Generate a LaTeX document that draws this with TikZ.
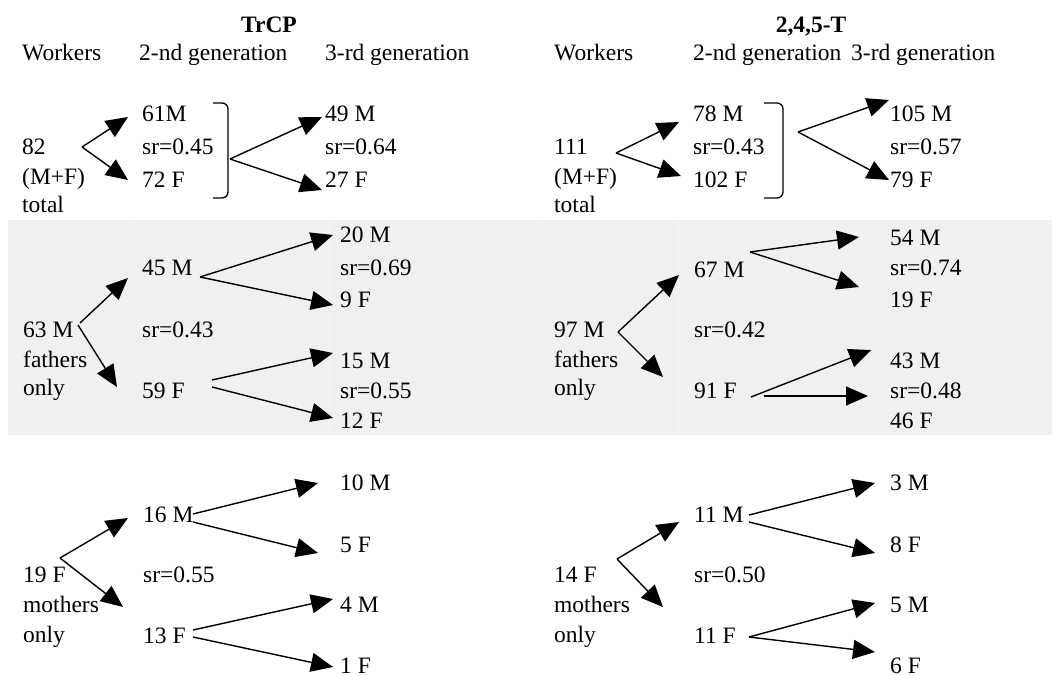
\documentclass[tikz,border=0pt]{standalone}
\usepackage{fontspec}
\setmainfont{Liberation Serif}
\usetikzlibrary{arrows.meta}
\definecolor{band}{HTML}{F0F0F0}
\definecolor{bandline}{HTML}{F5F5F5}
\begin{document}
\begin{tikzpicture}[x=1pt,y=-1pt,
 lab/.style={anchor=base west,inner sep=0pt,font=\fontsize{23.5}{28}\selectfont},
 ttl/.style={anchor=base,inner sep=0pt,font=\fontsize{23.5}{28}\selectfont\bfseries},
 arr/.style={line width=1.4pt,-{Triangle[length=22pt,width=19pt]}},
 brk/.style={line width=1.3pt,rounded corners=6pt}]
\useasboundingbox (0,0) rectangle (1056,676);
% shaded band
\fill[band] (8,220) rectangle (1052,435);
\foreach \xx in {130,329,538,678} \draw[bandline,line width=0.8pt] (\xx,220) -- (\xx,435);
% titles and headers
\node[ttl] (tL) at (269,33) {TrCP};
\node[ttl] (tR) at (811,33) {2,4,5-T};
\node[lab] (hL1) at (22,61) {Workers};
\node[lab] (hL2) at (139,61) {2-nd generation};
\node[lab] (hL3) at (325,61) {3-rd generation};
\node[lab] (hR1) at (554,61) {Workers};
\node[lab] (hR2) at (693,61) {2-nd generation};
\node[lab] (hR3) at (851,61) {3-rd generation};
% ---------- row 1 left
\node[lab] (a82) at (22,155) {82};
\node[lab] (aMF) at (22,185) {(M+F)};
\node[lab] (atot) at (22,213) {total};
\node[lab] (b61) at (142,122) {61M};
\node[lab] (bsr) at (142,155) {sr=0.45};
\node[lab] (b72) at (142,188) {72 F};
\node[lab] (c49) at (325,122) {49 M};
\node[lab] (csr) at (325,155) {sr=0.64};
\node[lab] (c27) at (325,188) {27 F};
\draw[brk] (213,103) -- (228,103) -- (228,198) -- (213,198);
\coordinate (o1) at (82,147);
\coordinate (t1a) at (128,117);
\coordinate (t1b) at (128,180);
\coordinate (o2) at (230,159);
\coordinate (t2a) at (322,117);
\coordinate (t2b) at (322,190);
\draw[arr] (o1) -- (t1a);
\draw[arr] (o1) -- (t1b);
\draw[arr] (o2) -- (t2a);
\draw[arr] (o2) -- (t2b);
% ---------- row 1 right
\node[lab] (d111) at (554,155) {111};
\node[lab] (dMF) at (554,185) {(M+F)};
\node[lab] (dtot) at (554,213) {total};
\node[lab] (e78) at (693,122) {78 M};
\node[lab] (esr) at (693,155) {sr=0.43};
\node[lab] (e102) at (693,188) {102 F};
\node[lab] (f105) at (890,122) {105 M};
\node[lab] (fsr) at (890,155) {sr=0.57};
\node[lab] (f79) at (890,188) {79 F};
\draw[brk] (764,103) -- (783,103) -- (783,198) -- (764,198);
\coordinate (o3) at (616,153);
\coordinate (t3a) at (679,122);
\coordinate (t3b) at (681,176);
\coordinate (o4) at (798,132);
\coordinate (t4a) at (889,100);
\coordinate (t4b) at (889,180);
\draw[arr] (o3) -- (t3a);
\draw[arr] (o3) -- (t3b);
\draw[arr] (o4) -- (t4a);
\draw[arr] (o4) -- (t4b);
% ---------- row 2 left
\node[lab] (g63) at (23,337) {63 M};
\node[lab] (gfa) at (23,367) {fathers};
\node[lab] (gon) at (23,395) {only};
\node[lab] (h45) at (142,275) {45 M};
\node[lab] (hsr) at (142,337) {sr=0.43};
\node[lab] (h59) at (142,398) {59 F};
\node[lab] (i20) at (340,243) {20 M};
\node[lab] (isr1) at (340,275) {sr=0.69};
\node[lab] (i9) at (340,307) {9 F};
\node[lab] (i15) at (340,368) {15 M};
\node[lab] (isr2) at (340,398) {sr=0.55};
\node[lab] (i12) at (340,428) {12 F};
\coordinate (o5a) at (80,323);
\coordinate (o5b) at (78,325);
\coordinate (t5a) at (128,278);
\coordinate (t5b) at (117,387);
\coordinate (o6) at (200,277);
\coordinate (t6a) at (333,235);
\coordinate (t6b) at (333,305);
\coordinate (o7a) at (212,380);
\coordinate (o7b) at (212,387);
\coordinate (t7a) at (333,353);
\coordinate (t7b) at (333,418);
\draw[arr] (o5a) -- (t5a);
\draw[arr] (o5b) -- (t5b);
\draw[arr] (o6) -- (t6a);
\draw[arr] (o6) -- (t6b);
\draw[arr] (o7a) -- (t7a);
\draw[arr] (o7b) -- (t7b);
% ---------- row 2 right
\node[lab] (j97) at (554,337) {97 M};
\node[lab] (jfa) at (554,367) {fathers};
\node[lab] (jon) at (554,395) {only};
\node[lab] (k67) at (694,277) {67 M};
\node[lab] (ksr) at (694,337) {sr=0.42};
\node[lab] (k91) at (694,398) {91 F};
\node[lab] (l54) at (890,245) {54 M};
\node[lab] (lsr1) at (890,275) {sr=0.74};
\node[lab] (l19) at (890,307) {19 F};
\node[lab] (l43) at (890,368) {43 M};
\node[lab] (lsr2) at (890,398) {sr=0.48};
\node[lab] (l46) at (890,428) {46 F};
\coordinate (o8) at (618,332);
\coordinate (t8a) at (679,275);
\coordinate (t8b) at (663,377);
\coordinate (o9) at (750,252);
\coordinate (t9a) at (859,237);
\coordinate (t9b) at (859,287);
\coordinate (o10a) at (751,397);
\coordinate (o10b) at (764,396);
\coordinate (t10a) at (871,350);
\coordinate (t10b) at (868,396);
\draw[arr] (o8) -- (t8a);
\draw[arr] (o8) -- (t8b);
\draw[arr] (o9) -- (t9a);
\draw[arr] (o9) -- (t9b);
\draw[arr] (o10a) -- (t10a);
\draw[arr] (o10b) -- (t10b);
% ---------- row 3 left
\node[lab] (m19) at (23,582) {19 F};
\node[lab] (mmo) at (23,612) {mothers};
\node[lab] (mon) at (23,642) {only};
\node[lab] (n16) at (143,522) {16 M};
\node[lab] (nsr) at (143,582) {sr=0.55};
\node[lab] (n13) at (143,643) {13 F};
\node[lab] (p10) at (340,490) {10 M};
\node[lab] (p5) at (340,552) {5 F};
\node[lab] (p4) at (340,612) {4 M};
\node[lab] (p1) at (340,673) {1 F};
\coordinate (o11) at (60,558);
\coordinate (t11a) at (128,518);
\coordinate (t11b) at (123,607);
\coordinate (o12a) at (193,514);
\coordinate (o12b) at (193,522);
\coordinate (t12a) at (318,483);
\coordinate (t12b) at (318,553);
\coordinate (o13a) at (193,630);
\coordinate (o13b) at (193,637);
\coordinate (t13a) at (333,599);
\coordinate (t13b) at (333,667);
\draw[arr] (o11) -- (t11a);
\draw[arr] (o11) -- (t11b);
\draw[arr] (o12a) -- (t12a);
\draw[arr] (o12b) -- (t12b);
\draw[arr] (o13a) -- (t13a);
\draw[arr] (o13b) -- (t13b);
% ---------- row 3 right
\node[lab] (q14) at (554,582) {14 F};
\node[lab] (qmo) at (554,612) {mothers};
\node[lab] (qon) at (554,642) {only};
\node[lab] (r11M) at (694,522) {11 M};
\node[lab] (rsr) at (694,582) {sr=0.50};
\node[lab] (r11F) at (694,643) {11 F};
\node[lab] (s3) at (890,490) {3 M};
\node[lab] (s8) at (890,552) {8 F};
\node[lab] (s5) at (890,612) {5 M};
\node[lab] (s6) at (890,673) {6 F};
\coordinate (o14) at (617,559);
\coordinate (t14a) at (679,522);
\coordinate (t14b) at (663,607);
\coordinate (o15a) at (749,515);
\coordinate (o15b) at (749,522);
\coordinate (t15a) at (875,483);
\coordinate (t15b) at (875,553);
\coordinate (o16) at (749,637);
\coordinate (t16a) at (875,603);
\coordinate (t16b) at (875,652);
\draw[arr] (o14) -- (t14a);
\draw[arr] (o14) -- (t14b);
\draw[arr] (o15a) -- (t15a);
\draw[arr] (o15b) -- (t15b);
\draw[arr] (o16) -- (t16a);
\draw[arr] (o16) -- (t16b);
\end{tikzpicture}
\end{document}
